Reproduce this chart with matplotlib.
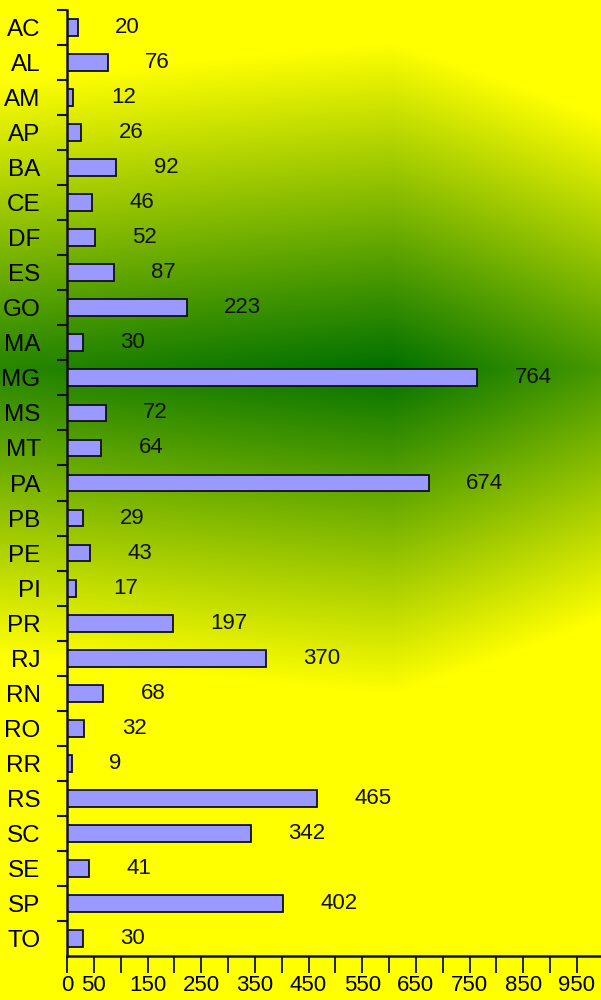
import numpy as np
import matplotlib
matplotlib.use("Agg")
import matplotlib.pyplot as plt

#%% data
states = ["AC", "AL", "AM", "AP", "BA", "CE", "DF", "ES", "GO", "MA", "MG", "MS", "MT", "PA",
          "PB", "PE", "PI", "PR", "RJ", "RN", "RO", "RR", "RS", "SC", "SE", "SP", "TO"]
values = [20, 76, 12, 26, 92, 46, 52, 87, 223, 30, 764, 72, 64, 674,
          29, 43, 17, 197, 370, 68, 32, 9, 465, 342, 41, 402, 30]
xtick_vals = list(range(0, 1000, 50))
xtick_labels = [0, 50, 150, 250, 350, 450, 550, 650, 750, 850, 950]

#%% figure + background gradient
W, H = 601, 1000
fig = plt.figure(figsize=(W / 100, H / 100), dpi=100)

bg = fig.add_axes([0, 0, 1, 1], zorder=0)
xx, yy = np.meshgrid(np.arange(W), np.arange(H))
cx, cy = 390, 368
rx = np.where(xx < cx, 2500, 750)
ry = 325
p = 1.1
r = ((np.abs(xx - cx) / rx) ** p + (np.abs(yy - cy) / ry) ** p) ** (1 / p)
t = np.clip(r, 0, 1)[..., None]
inner = np.array([0, 112, 0]) / 255
outer = np.array([255, 255, 0]) / 255
img = inner * (1 - t) + outer * t
bg.imshow(img, aspect="auto", extent=[0, W, H, 0])
bg.axis("off")

#%% bars
ax = fig.add_axes([67 / W, 44 / H, 1 - 67 / W, (956 - 10) / H], zorder=1)
ax.patch.set_alpha(0)
y = np.arange(len(states))
ax.barh(y, values, height=0.48, color="#9999FF", edgecolor="#101010", linewidth=1.3)
for yi, v in zip(y, values):
    ax.annotate(str(v), (v, yi), xytext=(27, 0), textcoords="offset points",
                va="center", ha="left", fontsize=16, family="Liberation Sans",
                color="#111111")

ax.set_xlim(0, 995)
ax.set_ylim(len(states) - 0.5, -0.5)

# y axis: labels centred, ticks on the band borders
ax.set_yticks(y)
ax.set_yticklabels(states, fontsize=17.5, family="Liberation Sans")
ax.tick_params(axis="y", which="major", length=0, pad=19)
ax.set_yticks(np.arange(len(states)) - 0.5, minor=True)
ax.tick_params(axis="y", which="minor", length=7, width=1.5, color="#111111")

ax.set_xticks(xtick_vals)
ax.set_xticklabels([str(v) if v in xtick_labels else "" for v in xtick_vals],
                   fontsize=16, family="Liberation Sans")
ax.tick_params(axis="x", length=12, width=1.3, color="#111111", pad=2)

for s in ["top", "right"]:
    ax.spines[s].set_visible(False)
for s in ["left", "bottom"]:
    ax.spines[s].set_linewidth(1.8)
    ax.spines[s].set_color("#111111")

fig.savefig("out.png", dpi=100)
